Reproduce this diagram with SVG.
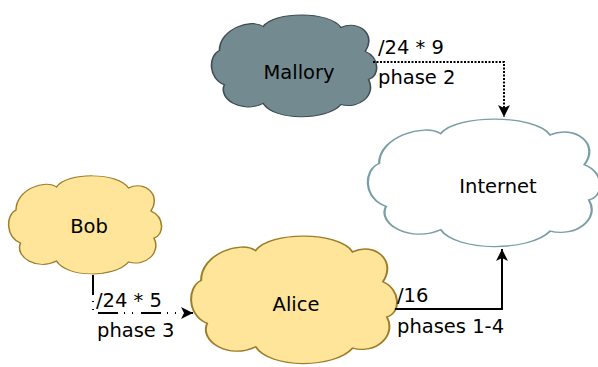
<svg xmlns="http://www.w3.org/2000/svg" width="598" height="367" viewBox="0 0 598 367">
<defs>
<path id="cloud" d="M4,35 C4,14 24,4 31,12 C38,-3 72,-3 79,13 C90,5 101,20 94,36 C103,42 103,60 96,63 C101,78 90,92 79,87 C70,103 38,103 31,86 C18,96 3,82 7,68 C-3,62 -3,40 4,35 Z"/>
<marker id="arr" viewBox="0 0 12 12" refX="12" refY="6" markerWidth="12" markerHeight="12" markerUnits="userSpaceOnUse" orient="auto">
<path d="M0,0 L12,6 L0,12 L3,6 Z" fill="#000"/>
</marker>
</defs>
<style>
.t{font-family:"DejaVu Sans",Verdana,sans-serif;font-size:19.5px;fill:#000}
.e{fill:none;stroke:#000;stroke-width:2}
</style>
<g id="mallory">
<use href="#cloud" transform="translate(213,14) scale(1.62,1.04)" fill="#738A91" stroke="#3f4d52" style="vector-effect:non-scaling-stroke"/>
<text class="t" x="299" y="79" text-anchor="middle">Mallory</text>
</g>
<g id="internet">
<use href="#cloud" transform="translate(370,118) scale(2.28,1.30)" fill="#ffffff" stroke="#7a9ea5" style="vector-effect:non-scaling-stroke"/>
<text class="t" x="498" y="193" text-anchor="middle">Internet</text>
</g>
<g id="bob">
<use href="#cloud" transform="translate(10,175) scale(1.50,1.00)" fill="#FFE599" stroke="#9c7e2a" style="vector-effect:non-scaling-stroke"/>
<text class="t" x="89" y="233" text-anchor="middle">Bob</text>
</g>
<g id="alice">
<use href="#cloud" transform="translate(193,235) scale(2.02,1.30)" fill="#FFE599" stroke="#9c7e2a" style="vector-effect:non-scaling-stroke"/>
<text class="t" x="296" y="311" text-anchor="middle">Alice</text>
</g>
<g id="connectors">
<path class="e" d="M373,62 H504 V117" stroke-dasharray="2 1.5" marker-end="url(#arr)"/>
<path class="e" d="M93,275 V313 H193" stroke-dasharray="20 6 1 7 1 8" marker-end="url(#arr)"/>
<path class="e" d="M395,309 H502 V249" marker-end="url(#arr)"/>
<text class="t" x="378" y="54">/24 * 9</text>
<text class="t" x="378" y="84">phase 2</text>
<text class="t" x="96" y="307">/24 * 5</text>
<text class="t" x="97" y="337">phase 3</text>
<text class="t" x="397" y="302">/16</text>
<text class="t" x="397" y="333">phases 1-4</text>
</g>
</svg>
